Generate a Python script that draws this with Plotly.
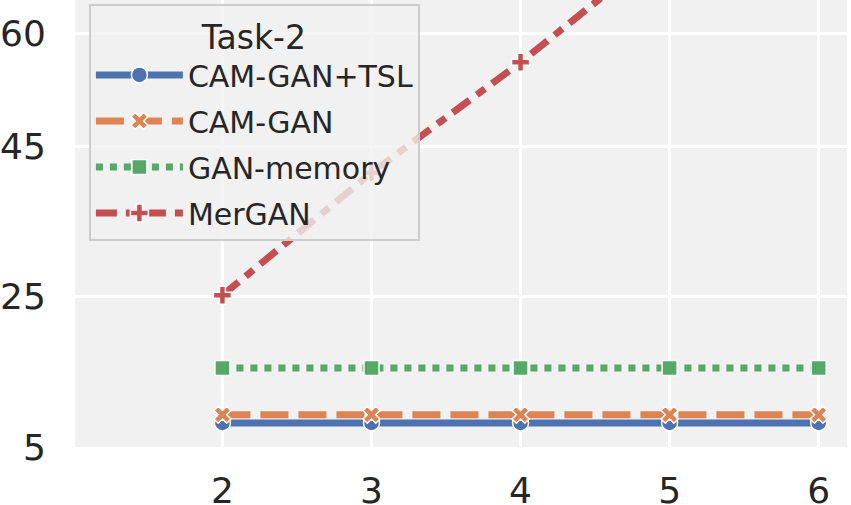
import plotly.graph_objects as go

tasks = [2, 3, 4, 5, 6]
cam_gan_tsl = [8.2, 8.2, 8.2, 8.2, 8.2]
cam_gan = [9.3, 9.3, 9.3, 9.3, 9.3]
gan_memory = [15.5, 15.5, 15.5, 15.5, 15.5]
mergan = [25.2, 41.5, 56.2, 72.5, 88.0]

y_ticks = [5, 25, 45, 60]
x_ticks = [2, 3, 4, 5, 6]

series = [
    ("CAM-GAN+TSL", cam_gan_tsl, "#4C72B0", "solid", "circle", 16),
    ("CAM-GAN", cam_gan, "#DD8452", "28px,10px", "x", 15),
    ("GAN-memory", gan_memory, "#55A868", "7px,7px", "square", 15),
    ("MerGAN", mergan, "#C44E52", "21px,9px,10px,9px", "cross", 15),
]

fig = go.Figure()
for i, (name, vals, color, dash, sym, size) in enumerate(series):
    fig.add_trace(go.Scatter(
        x=tasks, y=vals, name=name, mode="lines+markers",
        legendgroup=f"g{i}",
        line=dict(color=color, width=7, dash=dash),
        marker=dict(symbol=sym, size=size, color=color,
                    line=dict(color="white", width=1.5)),
    ))

fig.update_layout(
    width=851, height=505,
    margin=dict(l=75, r=4, t=0, b=58),
    paper_bgcolor="white",
    plot_bgcolor="#F1F1F1",
    font=dict(family="DejaVu Sans", color="#262626", size=36),
    showlegend=True,
    legend=dict(
        x=0.018, y=0.991, xanchor="left", yanchor="top",
        bgcolor="rgba(241,241,241,0.8)",
        bordercolor="#CCCCCC", borderwidth=2,
        font=dict(size=30, family="DejaVu Sans", color="#262626"),
        title=dict(text="Task-2", side="top center",
                   font=dict(size=33, family="DejaVu Sans", color="#262626")),
        itemwidth=87,
        tracegroupgap=4,
    ),
    xaxis=dict(
        range=[1.011, 6.19], tickvals=x_ticks,
        showgrid=True, gridcolor="white", gridwidth=2.5,
        zeroline=False, showline=False, automargin=False,
        ticks="outside", ticklen=12, tickcolor="rgba(0,0,0,0)",
        tickfont=dict(size=36),
    ),
    yaxis=dict(
        range=[5, 64.5], tickvals=y_ticks,
        showgrid=True, gridcolor="white", gridwidth=2.5,
        zeroline=False, showline=False, automargin=False,
        ticks="outside", ticklen=21, tickcolor="rgba(0,0,0,0)",
        tickfont=dict(size=36),
    ),
)

fig.write_html("out.html", config={"displayModeBar": False},
               post_script="document.body.style.margin='0';")
